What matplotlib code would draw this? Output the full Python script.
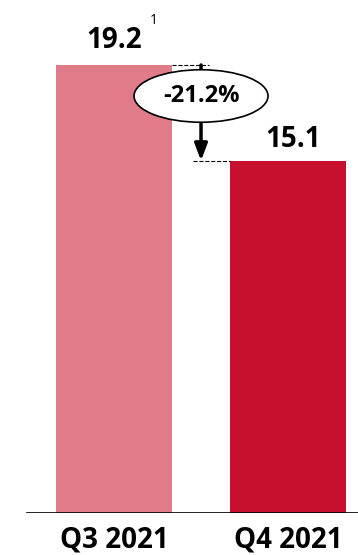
import matplotlib.pyplot as plt
from matplotlib.patches import Ellipse

quarters = ['Q3 2021', 'Q4 2021']
values = [19.2, 15.1]
colors = ['#E07B8A', '#C8102E']
change_label = '-21.2%'

plt.rcParams['font.family'] = ['Open Sans', 'DejaVu Sans']

fig = plt.figure(figsize=(3.58, 5.55), dpi=100)
ax = fig.add_axes([0, 42 / 555, 1, 513 / 555])

x = [0, 1]
bars = ax.bar(x, values, width=0.667, color=colors, zorder=2)

ax.set_xlim(-0.655, 1.402)
ax.set_ylim(0, values[0] * 513 / 448)
ax.axis('off')

# baseline
ax.axhline(0, xmin=27 / 358, xmax=1, color='black', lw=1.2, zorder=3)

# quarter labels under the baseline
for xi, q in zip(x, quarters):
    ax.annotate(q, (xi, 0), xytext=(0, -9), textcoords='offset points',
                ha='center', va='top', fontsize=20, fontweight='bold')

# value labels
ax.annotate(f'{values[0]}', (x[0], values[0]), xytext=(0, 7), textcoords='offset points',
            ha='center', va='bottom', fontsize=20, fontweight='bold')
ax.annotate('1', (x[0], values[0]), xytext=(29, 27), textcoords='offset points',
            ha='center', va='bottom', fontsize=10)
ax.annotate(f'{values[1]}', (x[1], values[1]), xytext=(4, 5), textcoords='offset points',
            ha='center', va='bottom', fontsize=20, fontweight='bold')

# dashed guides at both bar tops
ax.plot([0.333, 0.546], [values[0], values[0]], ls='--', color='black', lw=0.8, zorder=3)
ax.plot([0.454, 0.667], [values[1], values[1]], ls='--', color='black', lw=0.8, zorder=3)

# arrow from Q3 level down to Q4 level
ax.annotate('', xy=(0.5, values[1]), xytext=(0.5, values[0]),
            arrowprops=dict(arrowstyle='-|>,head_length=1.0,head_width=0.38',
                            lw=2.5, color='black', shrinkA=0, shrinkB=0), zorder=4)

# change bubble
yc = (513 - 96) / 448 * values[0]
ax.add_patch(Ellipse((0.5, yc), 0.77, 2.25, facecolor='white', edgecolor='black',
                     lw=1.2, zorder=5))
ax.text(0.5, yc, change_label, ha='center', va='center', fontsize=17,
        fontweight='bold', zorder=6)

fig.savefig('out.png', dpi=100)
